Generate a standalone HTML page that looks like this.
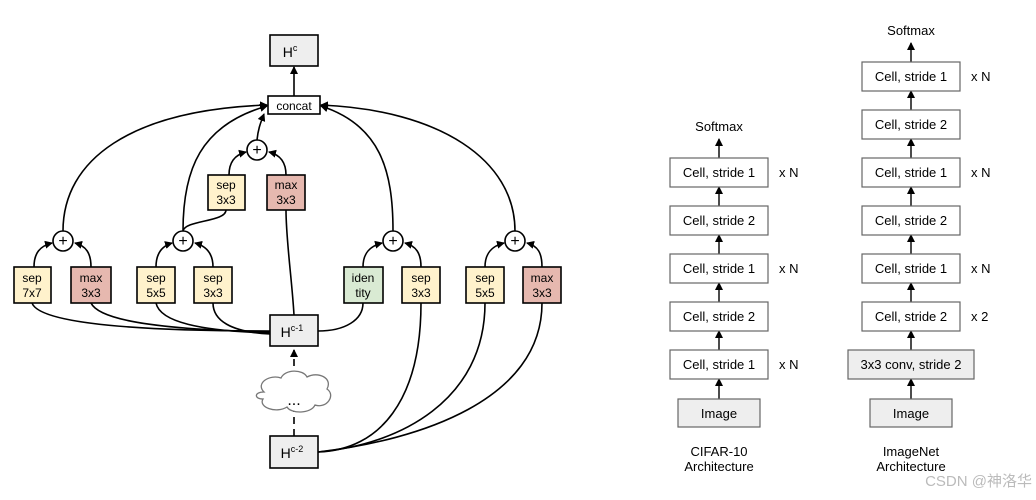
<!DOCTYPE html>
<html><head><meta charset="utf-8"><style>
html,body{margin:0;padding:0;background:#fff;}
svg{display:block;font-family:"Liberation Sans",Arial,sans-serif;}
</style></head><body>
<svg width="1036" height="500" viewBox="0 0 1036 500" xmlns="http://www.w3.org/2000/svg">
<defs>
<marker id="a" markerWidth="8" markerHeight="8" refX="7" refY="4" orient="auto" markerUnits="userSpaceOnUse">
<path d="M0,0 L8,4 L0,8 z" fill="#000"/></marker>
</defs>
<g fill="none" stroke="#000" stroke-width="1.6">
<path d="M270,331 C150,331 40,325 32,303"/>
<path d="M270,332 C170,330 100,322 91,303"/>
<path d="M270,333 C200,331 160,322 156,303"/>
<path d="M270,334 C230,332 213,320 213,303"/>
<path d="M318,331 C345,331 363,320 363,303"/>
<path d="M294,315 C292,280 286,240 286,210"/>
<path d="M318,452 C380,450 421,400 421,303"/>
<path d="M318,452 C400,445 485,400 485,303"/>
<path d="M318,452 C420,440 542,400 542,303"/>
<path d="M34,267 C34,253 40,246 52,243" marker-end="url(#a)"/>
<path d="M91,267 C91,253 86,246 75,243" marker-end="url(#a)"/>
<path d="M156,267 C156,253 162,246 172,243" marker-end="url(#a)"/>
<path d="M213,267 C213,253 206,246 195,243" marker-end="url(#a)"/>
<path d="M363,267 C363,253 370,246 382,243" marker-end="url(#a)"/>
<path d="M421,267 C421,253 416,246 405,243" marker-end="url(#a)"/>
<path d="M485,267 C485,253 492,246 504,243" marker-end="url(#a)"/>
<path d="M542,267 C542,253 538,246 527,243" marker-end="url(#a)"/>
<path d="M229,175 C229,163 234,155 246,152" marker-end="url(#a)"/>
<path d="M286,175 C286,163 281,155 269,152" marker-end="url(#a)"/>
<path d="M226,210 C226,222 185,220 183,231"/>
<path d="M63,231 C63,160 130,110 267,105" marker-end="url(#a)"/>
<path d="M183,231 C183,170 200,125 267,106" marker-end="url(#a)"/>
<path d="M257,140 C258,130 260,124 264,114" marker-end="url(#a)"/>
<path d="M393,231 C393,170 380,125 321,106" marker-end="url(#a)"/>
<path d="M515,231 C515,160 440,110 321,105" marker-end="url(#a)"/>
<path d="M294,96 L294,67" marker-end="url(#a)"/>
<path d="M294,436 L294,410" stroke-dasharray="7,5"/>
<path d="M294,378 L294,350" stroke-dasharray="7,5" marker-end="url(#a)"/>
</g>
<path d="M264,392 C255,383 270,374 281,378 C285,369 303,369 307,377 C318,371 333,378 327,389 C336,395 327,409 315,405 C311,414 291,414 287,407 C276,414 258,407 263,399 C254,399 254,392 264,392 Z" fill="#fff" stroke="#777" stroke-width="1.3"/>
<text x="294" y="405" font-size="16" text-anchor="middle">...</text>
<g stroke="#000" stroke-width="1.6" font-size="12" text-anchor="middle">
<rect x="270" y="35" width="48" height="31" fill="#eee"/>
<rect x="268" y="96" width="52" height="18" fill="#fff"/>
<rect x="270" y="315" width="48" height="31" fill="#eee"/>
<rect x="270" y="436" width="48" height="32" fill="#eee"/>
<rect x="208" y="175" width="37" height="35" fill="#fff2cc"/>
<rect x="267" y="175" width="38" height="35" fill="#e6b8af"/>
<rect x="14" y="267" width="37" height="36" fill="#fff2cc"/>
<rect x="71" y="267" width="40" height="36" fill="#e6b8af"/>
<rect x="137" y="267" width="38" height="36" fill="#fff2cc"/>
<rect x="194" y="267" width="38" height="36" fill="#fff2cc"/>
<rect x="344" y="267" width="39" height="36" fill="#d9ead3"/>
<rect x="402" y="267" width="38" height="36" fill="#fff2cc"/>
<rect x="466" y="267" width="38" height="36" fill="#fff2cc"/>
<rect x="523" y="267" width="38" height="36" fill="#e6b8af"/>
<circle cx="63" cy="241" r="10" fill="#fff"/>
<circle cx="183" cy="241" r="10" fill="#fff"/>
<circle cx="393" cy="241" r="10" fill="#fff"/>
<circle cx="515" cy="241" r="10" fill="#fff"/>
<circle cx="257" cy="150" r="10" fill="#fff"/>
</g>
<g font-size="12" text-anchor="middle" fill="#000">
<text x="294" y="110">concat</text>
<text x="290" y="57" font-size="14">H<tspan font-size="9" dy="-6">c</tspan></text>
<text x="292" y="337" font-size="14">H<tspan font-size="9" dy="-6">c-1</tspan></text>
<text x="292" y="458" font-size="14">H<tspan font-size="9" dy="-6">c-2</tspan></text>
<g font-size="16"><text x="63" y="246">+</text><text x="183" y="246">+</text><text x="393" y="246">+</text><text x="515" y="246">+</text><text x="257" y="155">+</text></g>
<text x="226" y="189">sep</text><text x="226" y="204">3x3</text>
<text x="286" y="189">max</text><text x="286" y="204">3x3</text>
<text x="32" y="282">sep</text><text x="32" y="297">7x7</text>
<text x="91" y="282">max</text><text x="91" y="297">3x3</text>
<text x="156" y="282">sep</text><text x="156" y="297">5x5</text>
<text x="213" y="282">sep</text><text x="213" y="297">3x3</text>
<text x="363" y="282">iden</text><text x="363" y="297">tity</text>
<text x="421" y="282">sep</text><text x="421" y="297">3x3</text>
<text x="485" y="282">sep</text><text x="485" y="297">5x5</text>
<text x="542" y="282">max</text><text x="542" y="297">3x3</text>
</g>
<g stroke="#000" stroke-width="1.4" fill="none">
<path d="M719,158 L719,139" marker-end="url(#a)"/>
<path d="M719,206 L719,187" marker-end="url(#a)"/>
<path d="M719,254 L719,235" marker-end="url(#a)"/>
<path d="M719,302 L719,283" marker-end="url(#a)"/>
<path d="M719,350 L719,331" marker-end="url(#a)"/>
<path d="M719,399 L719,379" marker-end="url(#a)"/>
<path d="M911,62 L911,43" marker-end="url(#a)"/>
<path d="M911,110 L911,91" marker-end="url(#a)"/>
<path d="M911,158 L911,139" marker-end="url(#a)"/>
<path d="M911,206 L911,187" marker-end="url(#a)"/>
<path d="M911,254 L911,235" marker-end="url(#a)"/>
<path d="M911,302 L911,283" marker-end="url(#a)"/>
<path d="M911,350 L911,331" marker-end="url(#a)"/>
<path d="M911,399 L911,379" marker-end="url(#a)"/>
</g>
<g stroke="#666" stroke-width="1.2">
<rect x="670" y="158" width="98" height="29" fill="#fff"/>
<rect x="670" y="206" width="98" height="29" fill="#fff"/>
<rect x="670" y="254" width="98" height="29" fill="#fff"/>
<rect x="670" y="302" width="98" height="29" fill="#fff"/>
<rect x="670" y="350" width="98" height="29" fill="#fff"/>
<rect x="678" y="399" width="82" height="28" fill="#eee"/>
<rect x="862" y="62" width="98" height="29" fill="#fff"/>
<rect x="862" y="110" width="98" height="29" fill="#fff"/>
<rect x="862" y="158" width="98" height="29" fill="#fff"/>
<rect x="862" y="206" width="98" height="29" fill="#fff"/>
<rect x="862" y="254" width="98" height="29" fill="#fff"/>
<rect x="862" y="302" width="98" height="29" fill="#fff"/>
<rect x="848" y="350" width="126" height="29" fill="#eee"/>
<rect x="870" y="399" width="82" height="28" fill="#eee"/>
</g>
<g font-size="13" fill="#000" text-anchor="middle">
<text x="719" y="131">Softmax</text>
<text x="719" y="177">Cell, stride 1</text>
<text x="719" y="225">Cell, stride 2</text>
<text x="719" y="273">Cell, stride 1</text>
<text x="719" y="321">Cell, stride 2</text>
<text x="719" y="369">Cell, stride 1</text>
<text x="719" y="418">Image</text>
<text x="719" y="456">CIFAR-10</text>
<text x="719" y="471">Architecture</text>
<text x="911" y="35">Softmax</text>
<text x="911" y="81">Cell, stride 1</text>
<text x="911" y="129">Cell, stride 2</text>
<text x="911" y="177">Cell, stride 1</text>
<text x="911" y="225">Cell, stride 2</text>
<text x="911" y="273">Cell, stride 1</text>
<text x="911" y="321">Cell, stride 2</text>
<text x="911" y="369">3x3 conv, stride 2</text>
<text x="911" y="418">Image</text>
<text x="911" y="456">ImageNet</text>
<text x="911" y="471">Architecture</text>
</g>
<g font-size="13" fill="#000">
<text x="779" y="177">x N</text><text x="779" y="273">x N</text><text x="779" y="369">x N</text>
<text x="971" y="81">x N</text><text x="971" y="177">x N</text><text x="971" y="273">x N</text><text x="971" y="321">x 2</text>
</g>
<text x="1032" y="486" font-size="15" fill="#bbb" text-anchor="end" font-family="'Liberation Sans','Noto Sans CJK SC',sans-serif">CSDN @神洛华</text>
</svg>
</body></html>
